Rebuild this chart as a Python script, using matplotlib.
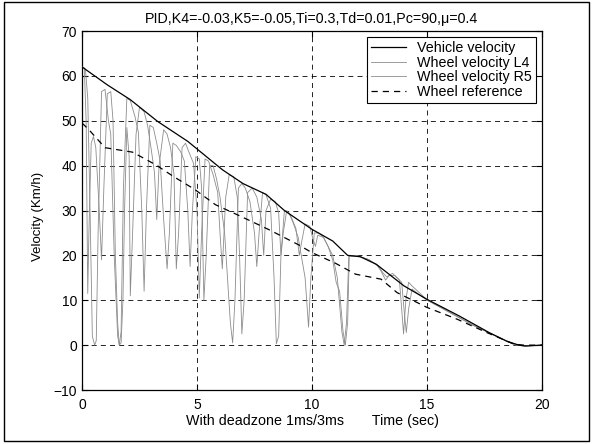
import matplotlib
matplotlib.use("Agg")
import matplotlib.pyplot as plt
from matplotlib.patches import Rectangle

plt.rcParams['font.family'] = ['Liberation Sans', 'DejaVu Sans']

title = "PID,K4=-0.03,K5=-0.05,Ti=0.3,Td=0.01,Pc=90,\u03bc=0.4"
xlabel = "With deadzone 1ms/3ms       Time (sec)"
ylabel = "Velocity (Km/h)"
xticks = [0, 5, 10, 15, 20]
yticks = [-10, 0, 10, 20, 30, 40, 50, 60, 70]

veh_t = [0, 1.1, 2.1, 3.3, 4.6, 6.1, 7.0, 8.0, 8.8, 10.0, 10.9, 11.55, 12.1, 12.8,
         14.0, 15.0, 16.4, 17.7, 18.5, 19.0, 19.3, 20]
veh_v = [62, 58, 54.7, 49.8, 45.4, 39.1, 36, 33.6, 30, 25.8, 23.2, 20, 19.7, 18,
         13.2, 10.2, 6.5, 2.8, 0.8, 0, -0.2, 0]

ref_t = [0, 0.3, 1.0, 2.2, 3.2, 4.0, 4.9, 5.8, 6.9, 8.1, 9.4, 10.0, 11.0, 11.9,
         13.0, 13.7, 15.0, 16.3, 17.6, 18.8, 19.2, 20]
ref_v = [49.5, 48, 44, 43, 40.2, 37.5, 34.7, 31.3, 28.7, 25.8, 22.4, 20.6, 18.3, 15.8,
         14.7, 11.7, 8.4, 5.8, 2.8, 0.2, 0, 0]

l4_t = [0, 0.15, 0.25, 0.35, 0.45, 0.55, 0.62, 0.7, 0.85, 1.0, 1.15, 1.25, 1.4, 1.55,
        1.62, 1.7, 1.8, 1.95, 2.1, 2.3, 2.45, 2.6, 2.7, 2.8, 2.95, 3.1, 3.25, 3.4,
        3.55, 3.7, 3.8, 3.95, 4.1, 4.3, 4.45, 4.6, 4.7, 4.8, 4.95, 5.1, 5.2, 5.3,
        5.4, 5.55, 5.7, 5.85, 6.0, 6.2, 6.45, 6.55, 6.65, 6.8, 6.95, 7.1, 7.3, 7.5,
        7.6, 7.7, 7.85, 8.0, 8.2, 8.35, 8.45, 8.55, 8.65, 8.8, 9.0, 9.2, 9.4, 9.6,
        9.7, 9.85, 9.95, 10.1, 10.3, 10.5, 10.7, 10.9, 11.1, 11.3, 11.4, 11.5, 11.6,
        12.0, 12.4, 12.8, 13.0, 13.2, 13.35, 13.6, 13.9, 14.0, 14.1, 14.2, 14.35,
        14.6, 15, 16, 17, 18, 18.8, 19.2, 20]
l4_v = [62, 61.5, 55, 30, 2, 0, 1, 25, 56.5, 57, 50, 47, 20, 2,
        0, 3, 35, 55, 54.5, 51, 47.5, 30, 12, 30, 49, 48.5, 45, 41,
        28, 17, 25, 45, 44.5, 43, 41, 30, 17.5, 30, 42, 41.5, 35, 10,
        20, 40, 40, 37, 33, 25, 5, 0.5, 10, 35, 36, 35, 32, 25,
        17.5, 25, 34, 33.5, 30.5, 15, 0.3, 2, 20, 30, 29.5, 27, 24, 18,
        15, 4, 15, 25, 25, 24, 22, 20, 15, 3, 0, 5, 19.8,
        19.8, 19.2, 18, 16.5, 14.5, 15.5, 15.5, 14, 8, 2.8, 8, 12.5,
        11.5, 10, 7.3, 4.5, 2.0, 0.1, -0.2, 0]

r5_t = [0, 0.1, 0.18, 0.25, 0.3, 0.4, 0.5, 0.6, 0.75, 0.85, 0.95, 1.1, 1.25, 1.35,
        1.45, 1.55, 1.62, 1.7, 1.78, 1.85, 1.95, 2.05, 2.1, 2.2, 2.35, 2.5, 2.7,
        2.85, 3.0, 3.15, 3.25, 3.35, 3.55, 3.7, 3.85, 4.0, 4.1, 4.2, 4.35, 4.5,
        4.65, 4.85, 5.0, 5.1, 5.2, 5.35, 5.5, 5.7, 5.9, 6.0, 6.1, 6.25, 6.4, 6.6,
        6.75, 6.85, 6.95, 7.05, 7.2, 7.4, 7.6, 7.8, 7.9, 8.0, 8.2, 8.4, 8.55, 8.65,
        8.75, 8.9, 9.1, 9.3, 9.45, 9.55, 9.7, 9.9, 10.05, 10.15, 10.25, 10.5, 10.7,
        10.9, 11.05, 11.2, 11.35, 11.45, 11.55, 11.62, 12.0, 12.5, 12.9, 13.1,
        13.25, 13.5, 13.8, 13.9, 13.98, 14.08, 14.2, 14.35, 15, 16, 17, 18, 18.8,
        19.2, 20]
r5_v = [62, 61.8, 50, 11.5, 25, 45, 46.5, 44, 30, 19, 35, 56, 56.5, 50,
        20, 5, 0, 0.5, 10, 30, 48.5, 42, 11, 25, 47, 53, 52,
        49, 44, 38.5, 28, 40, 48, 47, 44, 38, 17, 25, 44, 45,
        43, 40.5, 30, 10.5, 25, 41.5, 41, 38, 34, 25, 17, 33, 38, 37.5,
        33, 20, 2.5, 10, 34, 35, 33, 28, 20, 30, 32.5, 32, 29.5, 20,
        25, 30, 28.5, 26, 20, 23, 27, 26.5, 23.5, 22, 24.5, 24, 22,
        19, 14, 12, 3, 0, 5, 20, 19.9, 19, 17.5, 16,
        15.2, 16, 14.5, 8, 2.5, 10, 14, 13.2, 10.1, 7.2, 4.4, 2, 0.1,
        -0.2, 0]

fig = plt.figure(figsize=(5.92, 4.44), dpi=100)
ax = fig.add_axes([82 / 592, 1 - 390 / 444, 460 / 592, 359 / 444])

ax.plot(veh_t, veh_v, color='black', lw=0.9, label='Vehicle velocity', zorder=4)
ax.plot(l4_t, l4_v, color='#8c8c8c', lw=0.6, label='Wheel velocity L4', zorder=3)
ax.plot(r5_t, r5_v, color='#8c8c8c', lw=0.6, label='Wheel velocity R5', zorder=3)
ax.plot(ref_t, ref_v, color='black', lw=0.9, ls=(0, (5, 4)), label='Wheel reference', zorder=4)

ax.set_xlim(0, 20)
ax.set_ylim(-10, 70)
ax.set_xticks(xticks)
ax.set_yticks(yticks)
ax.tick_params(direction='in', top=True, right=True, length=4, labelsize=10, width=0.8)
ax.tick_params(axis='x', pad=6)
ax.grid(True, color='black', ls=(0, (6, 5)), lw=0.6)
for s in ax.spines.values():
    s.set_linewidth(0.9)

ax.set_title(title, fontsize=10.3, pad=6)
ax.set_xlabel(xlabel, fontsize=10.3, labelpad=1)
fig.text(38 / 592, 1 - 216 / 444, ylabel, rotation=90, fontsize=9.5, ha='center', va='center')

leg = ax.legend(loc='upper right', fontsize=10.3, fancybox=False, edgecolor='black',
                framealpha=1, borderaxespad=0.4, handlelength=2.4, borderpad=0.3,
                labelspacing=0.05, handletextpad=0.8)
leg.get_frame().set_linewidth(0.8)

fig.patches.append(Rectangle((4 / 592, 3 / 444), 585 / 592, 439 / 444, transform=fig.transFigure,
                             fill=False, edgecolor='black', lw=1.0))

fig.savefig('out.png', dpi=100)
